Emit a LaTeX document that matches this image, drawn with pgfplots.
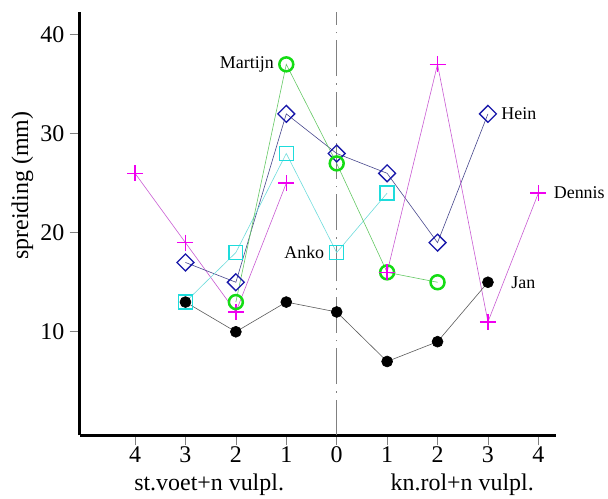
\documentclass[border=0pt]{standalone}
\usepackage{pgfplots}
\pgfplotsset{compat=1.18}
\usepackage{fontspec}
\setmainfont{Liberation Serif}
\definecolor{mag}{RGB}{240,0,240}
\definecolor{magline}{RGB}{200,90,210}
\definecolor{hein}{RGB}{25,25,170}
\definecolor{heinline}{RGB}{70,70,140}
\definecolor{anko}{RGB}{30,220,220}
\definecolor{ankoline}{RGB}{110,220,220}
\definecolor{mart}{RGB}{20,220,20}
\definecolor{martline}{RGB}{100,200,100}
\definecolor{janline}{RGB}{90,90,90}
\begin{document}
\begin{tikzpicture}
\begin{axis}[
  scale only axis, width=478pt, height=425pt,
  xmin=-5.1, xmax=4.35, ymin=-0.47, ymax=42.3,
  axis x line=bottom, axis y line=left,
  axis line style={-},
  x axis line style={line width=2.2pt, black},
  y axis line style={line width=2.2pt, black},
  every outer x axis line/.append style={line width=2.2pt},
  every outer y axis line/.append style={line width=2.2pt},
  tick align=outside, major tick length=10pt,
  tick style={gray, line width=0.6pt},
  xtick={-4,-3,-2,-1,0,1,2,3,4},
  xticklabels={4,3,2,1,0,1,2,3,4},
  ytick={10,20,30,40},
  /pgf/number format/assume math mode=true,
  tick label style={font=\fontsize{24}{26}\selectfont},
  xticklabel style={inner sep=1pt},
  yticklabel style={inner sep=5pt},
  ylabel={spreiding (mm)},
  ylabel style={font=\fontsize{24}{26}\selectfont, at={(axis description cs:-0.12,0.59)}, anchor=center},
  clip=false,
]
\path (axis description cs:-0.167,-0.1435) rectangle (axis description cs:1.1046,1.028);
\draw[gray, line width=0.6pt, dash pattern=on 36pt off 7pt on 1.5pt off 7pt] (axis cs:0,-0.47) -- (axis cs:0,42.3);
% Dennis
\addplot[magline, line width=0.6pt, mark=+, mark size=8pt, mark options={mag, line width=1.5pt, solid}]
  coordinates {(-4,26) (-3,19) (-2,12) (-1,25)};
% Hein
\addplot[heinline, line width=0.6pt, mark=square, mark size=6pt, mark options={hein, line width=1.3pt, solid, rotate=45}]
  coordinates {(-3,17) (-2,15) (-1,32) (0,28) (1,26) (2,19) (3,32)};
% Anko
\addplot[ankoline, line width=0.6pt, mark=square, mark size=7pt, mark options={anko, line width=1.3pt, solid}]
  coordinates {(-3,13) (-2,18) (-1,28) (0,18) (1,24)};
% Martijn
\addplot[martline, line width=0.6pt, mark=o, mark size=7pt, mark options={mart, line width=2.5pt, solid}]
  coordinates {(-2,13) (-1,37) (0,27) (1,16) (2,15)};
% Dennis right
\addplot[magline, line width=0.6pt, mark=+, mark size=8pt, mark options={mag, line width=1.5pt, solid}]
  coordinates {(1,16) (2,37) (3,11) (4,24)};
% Jan
\addplot[janline, line width=0.6pt, mark=*, mark size=5.5pt, mark options={black, fill=black, solid}]
  coordinates {(-3,13) (-2,10) (-1,13) (0,12) (1,7) (2,9) (3,15)};
\node[anchor=east, font=\fontsize{18}{20}\selectfont, xshift=-9pt] at (axis cs:-1,37) {Martijn};
\node[anchor=west, font=\fontsize{18}{20}\selectfont, xshift=10pt] at (axis cs:3,32) {Hein};
\node[anchor=west, font=\fontsize{18}{20}\selectfont, xshift=12pt] at (axis cs:4,24) {Dennis};
\node[anchor=east, font=\fontsize{18}{20}\selectfont, xshift=-9pt] at (axis cs:0,18) {Anko};
\node[anchor=west, font=\fontsize{18}{20}\selectfont, xshift=20pt] at (axis cs:3,15) {Jan};
\node[anchor=base, font=\fontsize{24}{26}\selectfont] at (axis cs:-2.53,-6.0) {st.voet+n vulpl.};
\node[anchor=base, font=\fontsize{24}{26}\selectfont] at (axis cs:2.49,-6.0) {kn.rol+n vulpl.};
\end{axis}
\end{tikzpicture}
\end{document}
